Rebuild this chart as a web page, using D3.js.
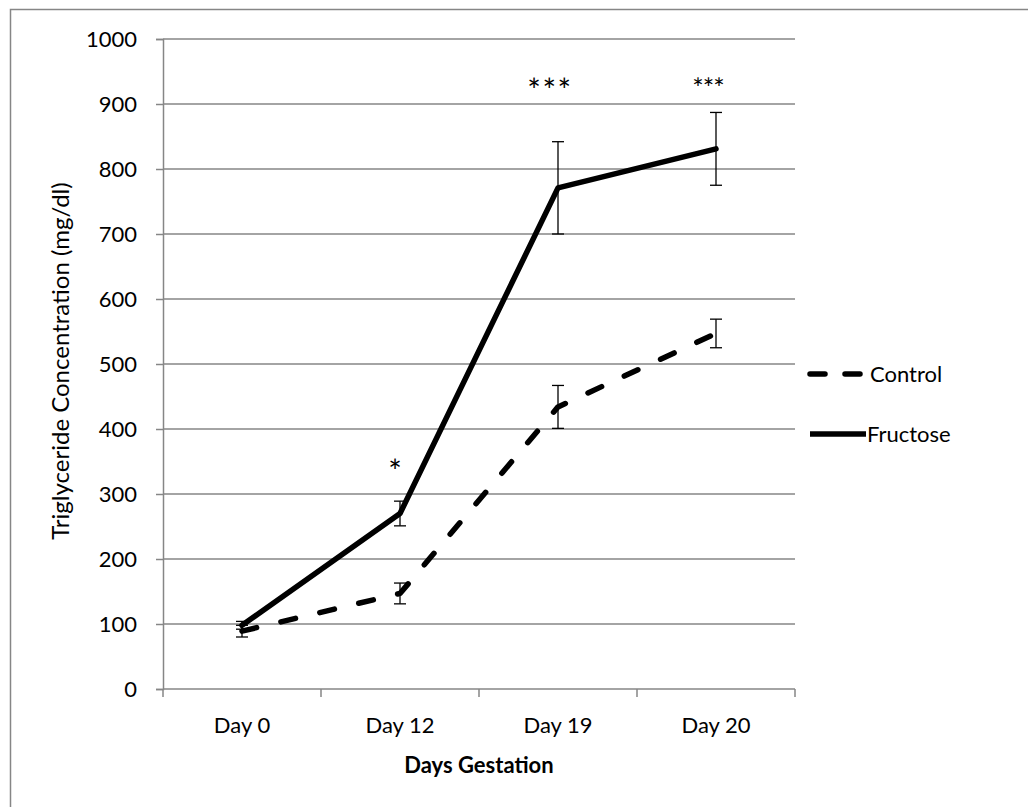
<!DOCTYPE html>
<html>
<head>
<meta charset="utf-8">
<script src="https://cdn.jsdelivr.net/npm/d3@7"></script>
<style>
  html, body { margin: 0; padding: 0; background: #fff; }
  svg { display: block; }
  text { font-family: Lato, "Open Sans", sans-serif; fill: #000; }
</style>
</head>
<body>
<svg id="chart" width="1028" height="807"></svg>
<script>
// Serum triglycerides across gestation, mean ± SEM
const days = ["Day 0", "Day 12", "Day 19", "Day 20"];
const controlMean = [89, 147, 434, 547];
const controlErr = [9, 16, 33, 22];
const fructoseMean = [98, 270, 771, 831];
const fructoseErr = [6, 19, 71, 56];
const significance = ["", "*", "***", "***"];
const yTicks = [0, 100, 200, 300, 400, 500, 600, 700, 800, 900, 1000];

const series = [
  { name: "Control", mean: controlMean, err: controlErr, dash: "15,25" },
  { name: "Fructose", mean: fructoseMean, err: fructoseErr, dash: null }
];

const svg = d3.select("#chart");
const grey = "#868686";

// outer chart frame
svg.append("rect")
  .attr("x", 10.5).attr("y", 9.5)
  .attr("width", 1040).attr("height", 820)
  .attr("fill", "none").attr("stroke", grey).attr("stroke-width", 1.5);

const plot = { left: 163, right: 795, top: 39, bottom: 689 };

const x = d3.scaleBand().domain(days).range([plot.left, plot.right]);
const y = d3.scaleLinear().domain([0, 1000]).range([plot.bottom, plot.top]);

// horizontal gridlines
svg.append("g")
  .selectAll("line")
  .data(yTicks.filter(t => t > 0))
  .join("line")
  .attr("x1", plot.left).attr("x2", plot.right)
  .attr("y1", d => y(d)).attr("y2", d => y(d))
  .attr("stroke", grey).attr("stroke-width", 1.5);

// y axis
const yAxis = svg.append("g")
  .attr("transform", `translate(${plot.left},0)`)
  .call(d3.axisLeft(y).tickValues(yTicks).tickSize(7).tickPadding(19).tickFormat(d3.format("d")));
yAxis.select(".domain").attr("stroke", grey).attr("stroke-width", 1.5);
yAxis.selectAll(".tick line").attr("stroke", grey).attr("stroke-width", 1.5);
yAxis.selectAll(".tick text")
  .attr("font-family", "Lato, sans-serif").attr("font-size", 22).attr("fill", "#000");

// x axis with ticks between categories
const xAxis = svg.append("g").attr("transform", `translate(0,${plot.bottom})`);
xAxis.append("line")
  .attr("x1", plot.left).attr("x2", plot.right)
  .attr("stroke", grey).attr("stroke-width", 1.5);
const boundaries = days.map(d => x(d)).concat([x(days[days.length - 1]) + x.bandwidth()]);
xAxis.selectAll("line.tick")
  .data(boundaries)
  .join("line")
  .attr("class", "tick")
  .attr("x1", d => d).attr("x2", d => d)
  .attr("y1", 0).attr("y2", 8)
  .attr("stroke", grey).attr("stroke-width", 1.5);
xAxis.selectAll("text")
  .data(days)
  .join("text")
  .attr("x", d => x(d) + x.bandwidth() / 2)
  .attr("y", 44)
  .attr("text-anchor", "middle")
  .attr("font-size", 22)
  .text(d => d);

// axis titles
svg.append("text")
  .attr("x", (plot.left + plot.right) / 2)
  .attr("y", 773)
  .attr("text-anchor", "middle")
  .attr("font-size", 22)
  .attr("font-weight", "bold")
  .text("Days Gestation");

svg.append("text")
  .attr("transform", `translate(69,${(plot.top + plot.bottom) / 2 - 3}) rotate(-90)`)
  .attr("text-anchor", "middle")
  .attr("font-size", 24)
  .text("Triglyceride Concentration (mg/dl)");

const cx = d => x(d) + x.bandwidth() / 2;
const line = d3.line().x(d => cx(d.day)).y(d => y(d.value));

// error bars
series.forEach(s => {
  const g = svg.append("g");
  const pts = days.map((day, i) => ({ day, value: s.mean[i], err: s.err[i] }));
  g.selectAll("line.bar")
    .data(pts).join("line")
    .attr("x1", d => cx(d.day)).attr("x2", d => cx(d.day))
    .attr("y1", d => y(d.value - d.err)).attr("y2", d => y(d.value + d.err))
    .attr("stroke", "#000").attr("stroke-width", 1.3);
  ["lo", "hi"].forEach(k => {
    g.selectAll("line.cap" + k)
      .data(pts).join("line")
      .attr("x1", d => cx(d.day) - 6).attr("x2", d => cx(d.day) + 6)
      .attr("y1", d => y(k === "lo" ? d.value - d.err : d.value + d.err))
      .attr("y2", d => y(k === "lo" ? d.value - d.err : d.value + d.err))
      .attr("stroke", "#000").attr("stroke-width", 1.3);
  });
});

// series lines
series.forEach(s => {
  const pts = days.map((day, i) => ({ day, value: s.mean[i] }));
  svg.append("path")
    .datum(pts)
    .attr("d", line)
    .attr("fill", "none")
    .attr("stroke", "#000")
    .attr("stroke-width", 5.5)
    .attr("stroke-linecap", "round")
    .attr("stroke-linejoin", "round")
    .attr("stroke-dasharray", s.dash);
});

// significance markers above the fructose series
const starStyle = [
  null,
  { dx: -5, y: 483, size: 32, spacing: 0 },
  { dx: -8, y: 102, size: 32, spacing: 1.5 },
  { dx: -8, y: 98, size: 27, spacing: -1 }
];
svg.append("g").selectAll("text")
  .data(days.map((day, i) => ({ day, mark: significance[i], st: starStyle[i] })).filter(d => d.mark))
  .join("text")
  .attr("x", d => cx(d.day) + d.st.dx)
  .attr("y", d => d.st.y)
  .attr("text-anchor", "middle")
  .attr("font-family", "'DejaVu Sans', sans-serif")
  .attr("font-size", d => d.st.size)
  .attr("letter-spacing", d => d.st.spacing)
  .text(d => d.mark);

// legend
const legend = svg.append("g");
const legendRows = [
  { name: "Control", dash: "15,25", y: 374 },
  { name: "Fructose", dash: null, y: 434 }
];
legendRows.forEach(r => {
  legend.append("line")
    .attr("x1", 810).attr("x2", r.dash ? 860 : 866)
    .attr("y1", r.y).attr("y2", r.y)
    .attr("stroke", "#000").attr("stroke-width", 5.5)
    .attr("stroke-linecap", r.dash ? "round" : "butt")
    .attr("stroke-dasharray", r.dash ? "15,20" : null);
  legend.append("text")
    .attr("x", r.dash ? 870 : 867)
    .attr("y", r.y)
    .attr("dy", "0.35em")
    .attr("font-size", 22)
    .text(r.name);
});
</script>
</body>
</html>
